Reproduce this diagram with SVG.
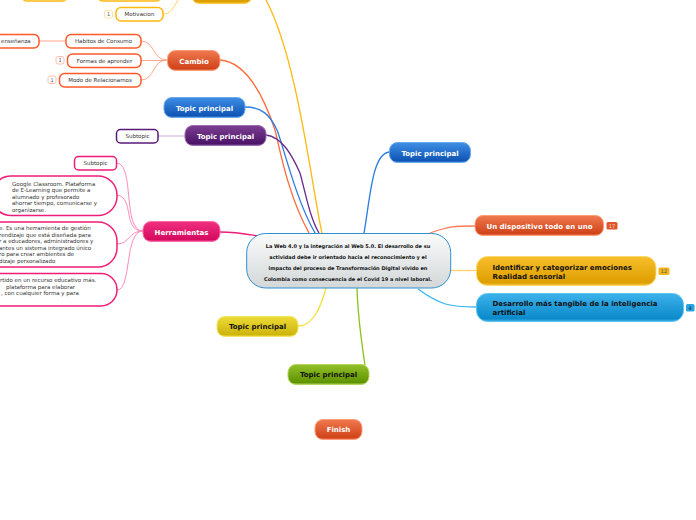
<svg xmlns="http://www.w3.org/2000/svg" width="696" height="520" viewBox="0 0 696 520">
<style>
text{font-family:"DejaVu Sans",Verdana,sans-serif;}
.t{font-size:7px;font-weight:700;text-anchor:middle;fill:#fff;}
.d{fill:#111;}
.st{text-anchor:start;}
.s{font-size:5.5px;fill:#333;text-anchor:middle;}
.l{font-size:5.5px;fill:#333;}
.c{font-size:5px;font-weight:700;fill:#111;text-anchor:middle;}
.n{fill:#fff;stroke-width:1.5;}
.b{font-size:5px;text-anchor:middle;fill:#555;}
.conn{fill:none;stroke-width:1.3;}
.sub{fill:none;stroke-width:1;}
.bx{fill:#fff;stroke-width:.9;}
</style>
<defs>
<linearGradient id="go" x1="0" y1="0" x2="0" y2="1"><stop offset="0" stop-color="#f0794f"/><stop offset=".9" stop-color="#d1441a"/><stop offset="1" stop-color="#ea7a58"/></linearGradient>
<linearGradient id="gb" x1="0" y1="0" x2="0" y2="1"><stop offset="0" stop-color="#3f8fe6"/><stop offset=".9" stop-color="#0f55b5"/><stop offset="1" stop-color="#3a80d8"/></linearGradient>
<linearGradient id="gp" x1="0" y1="0" x2="0" y2="1"><stop offset="0" stop-color="#7d3f93"/><stop offset=".9" stop-color="#4c1568"/><stop offset="1" stop-color="#7a4a92"/></linearGradient>
<linearGradient id="gm" x1="0" y1="0" x2="0" y2="1"><stop offset="0" stop-color="#f0307f"/><stop offset=".9" stop-color="#d50a60"/><stop offset="1" stop-color="#ee4d90"/></linearGradient>
<linearGradient id="gy" x1="0" y1="0" x2="0" y2="1"><stop offset="0" stop-color="#eedb38"/><stop offset=".9" stop-color="#cdb50e"/><stop offset="1" stop-color="#ecd93c"/></linearGradient>
<linearGradient id="gg" x1="0" y1="0" x2="0" y2="1"><stop offset="0" stop-color="#93c02a"/><stop offset=".9" stop-color="#5f9400"/><stop offset="1" stop-color="#a5cf56"/></linearGradient>
<linearGradient id="ga" x1="0" y1="0" x2="0" y2="1"><stop offset="0" stop-color="#f8bf2c"/><stop offset=".9" stop-color="#dd9e00"/><stop offset="1" stop-color="#f6c540"/></linearGradient>
<linearGradient id="gc" x1="0" y1="0" x2="0" y2="1"><stop offset="0" stop-color="#3db2ea"/><stop offset=".9" stop-color="#0b8acb"/><stop offset="1" stop-color="#44b4ea"/></linearGradient>
<linearGradient id="gw" x1="0" y1="0" x2="0" y2="1"><stop offset="0" stop-color="#fafbfb"/><stop offset="1" stop-color="#d3d7d8"/></linearGradient>
</defs>
<g id="connectors">
<path class="conn" stroke="#ffb90f" d="M322 233C312 190 298 60 266 0"/>
<path class="conn" stroke="#ff6a39" d="M220 60C248 62 265 100 275 130C280 150 288 195 309 233"/>
<path class="conn" stroke="#2a7de0" d="M245 107C262 107 270 115 277 130C283 145 296 200 315 233"/>
<path class="conn" stroke="#6a2a8a" d="M266 135C282 137 292 155 300 173C306 195 310 218 319 233"/>
<path class="conn" stroke="#2a7de0" d="M364 233C370 200 372 152 390 152"/>
<path class="conn" stroke="#ff7a55" d="M430 233C450 226 455 226 475 226"/>
<path class="conn" stroke="#ffcf6a" d="M450 270.500H476"/>
<path class="conn" stroke="#35b5ef" d="M418 289C440 305 450 307 476 307"/>
<path class="conn" stroke="#f01c78" d="M220 232C235 232 240 233 258 236"/>
<path class="conn" stroke="#f3df3a" d="M298 326C312 326 320 310 326 288"/>
<path class="conn" stroke="#8cc21a" d="M357 288C358 320 362 345 365 365"/>
<path class="sub" stroke="#ffd56a" d="M178 0C172 10 170 14 163 14"/>
<path class="sub" stroke="#ffa78e" d="M39 41H65"/>
<path class="sub" stroke="#ffa78e" d="M141 41C155 41 152 60 167 60"/>
<path class="sub" stroke="#ffa78e" d="M141 60.500H167"/>
<path class="sub" stroke="#ffa78e" d="M141 80C155 80 152 60 167 60"/>
<path class="sub" stroke="#c9a8d6" d="M158 136H185"/>
<path class="sub" stroke="#ff8abb" d="M117 163C135 165 122 231 143 231"/>
<path class="sub" stroke="#ff8abb" d="M117 195C135 198 122 231 143 231"/>
<path class="sub" stroke="#ff8abb" d="M117 244C130 244 128 231 143 231"/>
<path class="sub" stroke="#ff8abb" d="M117 290C132 290 124 231 143 231"/>
</g>
<g id="n-top1"><rect class="n" x="21" y="-12" width="47" height="13" rx="6" stroke="#ffb90f"/></g>
<g id="n-top2"><rect class="n" x="97" y="-12" width="65" height="13" rx="6" stroke="#ffb90f"/></g>
<g id="n-top3"><rect x="191.500" y="-16" width="60.500" height="19.500" rx="8" fill="url(#ga)" stroke="#ffc93c"/></g>
<g id="n-motivacion"><rect class="n" x="116" y="7.500" width="47" height="13.500" rx="5" stroke="#ffb90f"/><text class="s" x="139.500" y="16">Motivacion</text><rect class="bx" x="104.500" y="10.500" width="8" height="7.500" rx="2" stroke="#ffe09a"/><text class="b" x="108.500" y="16">1</text></g>
<g id="n-cambio"><rect x="167.500" y="50.500" width="52.500" height="20" rx="8" fill="url(#go)" stroke="#ff9c7c"/><text class="t" x="194" y="63.500">Cambio</text></g>
<g id="n-ensenanza"><rect class="n" x="-30" y="34.500" width="69" height="13.500" rx="5" stroke="#ff5a2a"/><text class="l" x="1" y="43.200">enseñanza</text></g>
<g id="n-habitos"><rect class="n" x="66" y="34.500" width="75" height="13.500" rx="5" stroke="#ff5a2a"/><text class="s" x="103.500" y="43.200">Habitos de Consumo</text></g>
<g id="n-formas"><rect class="n" x="67.500" y="54" width="73.500" height="13.500" rx="5" stroke="#ff5a2a"/><text class="s" x="104.500" y="63">Formas de aprender</text><rect class="bx" x="56" y="56.500" width="8" height="7.500" rx="2" stroke="#ffb7a2"/><text class="b" x="60" y="62">1</text></g>
<g id="n-modo"><rect class="n" x="59.500" y="73.500" width="81.500" height="13.500" rx="5" stroke="#ff5a2a"/><text class="s" x="100" y="82.200">Modo de Relacionamos</text><rect class="bx" x="48" y="76" width="8" height="7.500" rx="2" stroke="#ffb7a2"/><text class="b" x="52" y="81.700">1</text></g>
<g id="n-topic-blue1"><rect x="164" y="97.500" width="81" height="20" rx="8" fill="url(#gb)" stroke="#6aa9ec"/><text class="t" x="204.500" y="110.500">Topic principal</text></g>
<g id="n-topic-purple"><rect x="185" y="125.500" width="81" height="20" rx="8" fill="url(#gp)" stroke="#9a6cb0"/><text class="t" x="225.500" y="138.500">Topic principal</text></g>
<g id="n-subtopic1"><rect class="n" x="116.500" y="129.500" width="41.500" height="13.500" rx="4" stroke="#5a1a78"/><text class="s" x="137.500" y="138.200">Subtopic</text></g>
<g id="n-herramientas"><rect x="143" y="221.500" width="77" height="20" rx="8" fill="url(#gm)" stroke="#ff6aa8"/><text class="t" x="181.500" y="234.500">Herramientas</text></g>
<g id="n-subtopic2"><rect class="n" x="74.500" y="156.500" width="42" height="13.500" rx="4" stroke="#f01c78"/><text class="s" x="95.500" y="165.200">Subtopic</text></g>
<g id="n-classroom"><rect class="n" x="-8" y="176" width="125" height="39.500" rx="19" stroke="#f01c78"/>
<text class="l" x="12" y="185.500">Google Classroom. Plataforma</text><text class="l" x="12" y="191.800">de E-Learning que permite a</text><text class="l" x="12" y="198.500">alumnado y profesorado</text><text class="l" x="12" y="205">ahorrar tiempo, comunicarse y</text><text class="l" x="12" y="211.500">organizarse.</text></g>
<g id="n-gestion"><rect class="n" x="-30" y="222" width="147" height="45" rx="19" stroke="#f01c78"/>
<text class="l" x="-1" y="230">e. Es una herramienta de gestión</text><text class="l" x="-1" y="236.500">rendizaje que está diseñada para</text><text class="l" x="-1" y="243">r a educadores, administradores y</text><text class="l" x="-1" y="249.800">antes un sistema integrado único</text><text class="l" x="-1" y="256">ro para crear ambientes de</text><text class="l" x="-1" y="263">dizaje personalizado</text></g>
<g id="n-recurso"><rect class="n" x="-30" y="273.500" width="147" height="32.500" rx="16" stroke="#f01c78"/>
<text class="l" x="0" y="282">rtido en un recurso educativo más.</text><text class="l" x="6" y="288.500">plataforma para elaborar</text><text class="l" x="1" y="295">, con cualquier forma y para</text></g>
<g id="n-central"><rect x="246.700" y="233.500" width="204" height="54.500" rx="19" fill="url(#gw)" stroke="#2f8fd0" stroke-width="1"/>
<text class="c" x="348" y="248">La Web 4.0 y la integración al Web 5.0. El desarrollo de su</text><text class="c" x="348" y="259">actividad debe ir orientado hacia el reconocimiento y el</text><text class="c" x="348" y="270">impacto del proceso de Transformación Digital vivido en</text><text class="c" x="348" y="281">Colombia como consecuencia de el Covid 19 a nivel laboral.</text></g>
<g id="n-topic-blue2"><rect x="389.500" y="142.500" width="81" height="20" rx="8" fill="url(#gb)" stroke="#6aa9ec"/><text class="t" x="430" y="155.500">Topic principal</text></g>
<g id="n-dispositivo"><rect x="475" y="215.500" width="128.500" height="20" rx="8" fill="url(#go)" stroke="#ff9c7c"/><text class="t" x="539.500" y="229">Un dispositivo todo en uno</text><rect x="606.500" y="222" width="11" height="7.500" rx="1.500" fill="#e0552c"/><text class="b" x="612" y="227.800" style="fill:#ffd8c8">17</text></g>
<g id="n-emociones"><rect x="476.500" y="256.500" width="179.500" height="29" rx="11" fill="url(#ga)" stroke="#ffd96a"/><text class="t d st" x="492.500" y="270">Identificar y categorizar emociones</text><text class="t d st" x="492.500" y="278.500">Realidad sensorial</text><rect x="658.500" y="267.500" width="11" height="7.500" rx="1.500" fill="#f2b61c"/><text class="b" x="664" y="273.300">12</text></g>
<g id="n-inteligencia"><rect x="476.500" y="293.500" width="207" height="28" rx="11" fill="url(#gc)" stroke="#5cc4f2"/><text class="t d st" x="492.500" y="306">Desarrollo más tangible de la inteligencia</text><text class="t d st" x="492.500" y="315">artificial</text><rect x="686" y="304" width="8.500" height="7.500" rx="1.500" fill="#27a4e0"/><text class="b" x="690.200" y="309.800" style="fill:#124">4</text></g>
<g id="n-topic-yellow"><rect x="217" y="316.500" width="81" height="20" rx="8" fill="url(#gy)" stroke="#f3e55a"/><text class="t d" x="257.500" y="329">Topic principal</text></g>
<g id="n-topic-green"><rect x="288" y="364.500" width="81" height="20" rx="8" fill="url(#gg)" stroke="#b3d65a"/><text class="t d" x="328.500" y="377">Topic principal</text></g>
<g id="n-finish"><rect x="315" y="419.500" width="47" height="20" rx="8" fill="url(#go)" stroke="#ff9c7c"/><text class="t" x="338.500" y="432">Finish</text></g>
</svg>
